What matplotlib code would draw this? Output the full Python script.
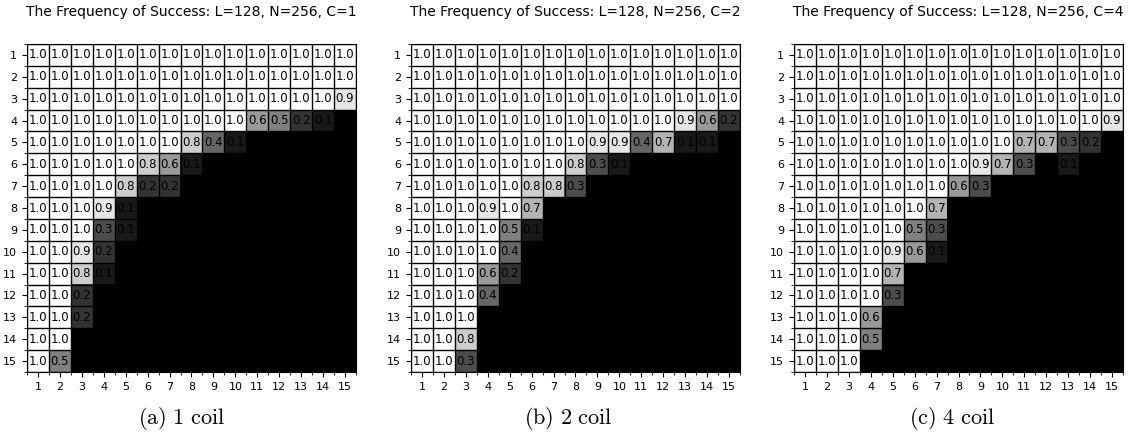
import numpy as np
import matplotlib
matplotlib.use("Agg")
import matplotlib.pyplot as plt

plt.rcParams['mathtext.fontset'] = 'cm'

# success frequency, rows = 1..15 (y), cols = 1..15 (x); 0 = black cell, no label
freq_c1 = [
    [1.0, 1.0, 1.0, 1.0, 1.0, 1.0, 1.0, 1.0, 1.0, 1.0, 1.0, 1.0, 1.0, 1.0, 1.0],
    [1.0, 1.0, 1.0, 1.0, 1.0, 1.0, 1.0, 1.0, 1.0, 1.0, 1.0, 1.0, 1.0, 1.0, 1.0],
    [1.0, 1.0, 1.0, 1.0, 1.0, 1.0, 1.0, 1.0, 1.0, 1.0, 1.0, 1.0, 1.0, 1.0, 0.9],
    [1.0, 1.0, 1.0, 1.0, 1.0, 1.0, 1.0, 1.0, 1.0, 1.0, 0.6, 0.5, 0.2, 0.1, 0],
    [1.0, 1.0, 1.0, 1.0, 1.0, 1.0, 1.0, 0.8, 0.4, 0.1, 0, 0, 0, 0, 0],
    [1.0, 1.0, 1.0, 1.0, 1.0, 0.8, 0.6, 0.1, 0, 0, 0, 0, 0, 0, 0],
    [1.0, 1.0, 1.0, 1.0, 0.8, 0.2, 0.2, 0, 0, 0, 0, 0, 0, 0, 0],
    [1.0, 1.0, 1.0, 0.9, 0.1, 0, 0, 0, 0, 0, 0, 0, 0, 0, 0],
    [1.0, 1.0, 1.0, 0.3, 0.1, 0, 0, 0, 0, 0, 0, 0, 0, 0, 0],
    [1.0, 1.0, 0.9, 0.2, 0, 0, 0, 0, 0, 0, 0, 0, 0, 0, 0],
    [1.0, 1.0, 0.8, 0.1, 0, 0, 0, 0, 0, 0, 0, 0, 0, 0, 0],
    [1.0, 1.0, 0.2, 0, 0, 0, 0, 0, 0, 0, 0, 0, 0, 0, 0],
    [1.0, 1.0, 0.2, 0, 0, 0, 0, 0, 0, 0, 0, 0, 0, 0, 0],
    [1.0, 1.0, 0, 0, 0, 0, 0, 0, 0, 0, 0, 0, 0, 0, 0],
    [1.0, 0.5, 0, 0, 0, 0, 0, 0, 0, 0, 0, 0, 0, 0, 0],
]

freq_c2 = [
    [1.0, 1.0, 1.0, 1.0, 1.0, 1.0, 1.0, 1.0, 1.0, 1.0, 1.0, 1.0, 1.0, 1.0, 1.0],
    [1.0, 1.0, 1.0, 1.0, 1.0, 1.0, 1.0, 1.0, 1.0, 1.0, 1.0, 1.0, 1.0, 1.0, 1.0],
    [1.0, 1.0, 1.0, 1.0, 1.0, 1.0, 1.0, 1.0, 1.0, 1.0, 1.0, 1.0, 1.0, 1.0, 1.0],
    [1.0, 1.0, 1.0, 1.0, 1.0, 1.0, 1.0, 1.0, 1.0, 1.0, 1.0, 1.0, 0.9, 0.6, 0.2],
    [1.0, 1.0, 1.0, 1.0, 1.0, 1.0, 1.0, 1.0, 0.9, 0.9, 0.4, 0.7, 0.1, 0.1, 0],
    [1.0, 1.0, 1.0, 1.0, 1.0, 1.0, 1.0, 0.8, 0.3, 0.1, 0, 0, 0, 0, 0],
    [1.0, 1.0, 1.0, 1.0, 1.0, 0.8, 0.8, 0.3, 0, 0, 0, 0, 0, 0, 0],
    [1.0, 1.0, 1.0, 0.9, 1.0, 0.7, 0, 0, 0, 0, 0, 0, 0, 0, 0],
    [1.0, 1.0, 1.0, 1.0, 0.5, 0.1, 0, 0, 0, 0, 0, 0, 0, 0, 0],
    [1.0, 1.0, 1.0, 1.0, 0.4, 0, 0, 0, 0, 0, 0, 0, 0, 0, 0],
    [1.0, 1.0, 1.0, 0.6, 0.2, 0, 0, 0, 0, 0, 0, 0, 0, 0, 0],
    [1.0, 1.0, 1.0, 0.4, 0, 0, 0, 0, 0, 0, 0, 0, 0, 0, 0],
    [1.0, 1.0, 1.0, 0, 0, 0, 0, 0, 0, 0, 0, 0, 0, 0, 0],
    [1.0, 1.0, 0.8, 0, 0, 0, 0, 0, 0, 0, 0, 0, 0, 0, 0],
    [1.0, 1.0, 0.3, 0, 0, 0, 0, 0, 0, 0, 0, 0, 0, 0, 0],
]

freq_c4 = [
    [1.0, 1.0, 1.0, 1.0, 1.0, 1.0, 1.0, 1.0, 1.0, 1.0, 1.0, 1.0, 1.0, 1.0, 1.0],
    [1.0, 1.0, 1.0, 1.0, 1.0, 1.0, 1.0, 1.0, 1.0, 1.0, 1.0, 1.0, 1.0, 1.0, 1.0],
    [1.0, 1.0, 1.0, 1.0, 1.0, 1.0, 1.0, 1.0, 1.0, 1.0, 1.0, 1.0, 1.0, 1.0, 1.0],
    [1.0, 1.0, 1.0, 1.0, 1.0, 1.0, 1.0, 1.0, 1.0, 1.0, 1.0, 1.0, 1.0, 1.0, 0.9],
    [1.0, 1.0, 1.0, 1.0, 1.0, 1.0, 1.0, 1.0, 1.0, 1.0, 0.7, 0.7, 0.3, 0.2, 0],
    [1.0, 1.0, 1.0, 1.0, 1.0, 1.0, 1.0, 1.0, 0.9, 0.7, 0.3, 0, 0.1, 0, 0],
    [1.0, 1.0, 1.0, 1.0, 1.0, 1.0, 1.0, 0.6, 0.3, 0, 0, 0, 0, 0, 0],
    [1.0, 1.0, 1.0, 1.0, 1.0, 1.0, 0.7, 0, 0, 0, 0, 0, 0, 0, 0],
    [1.0, 1.0, 1.0, 1.0, 1.0, 0.5, 0.3, 0, 0, 0, 0, 0, 0, 0, 0],
    [1.0, 1.0, 1.0, 1.0, 0.9, 0.6, 0.1, 0, 0, 0, 0, 0, 0, 0, 0],
    [1.0, 1.0, 1.0, 1.0, 0.7, 0, 0, 0, 0, 0, 0, 0, 0, 0, 0],
    [1.0, 1.0, 1.0, 1.0, 0.3, 0, 0, 0, 0, 0, 0, 0, 0, 0, 0],
    [1.0, 1.0, 1.0, 0.6, 0, 0, 0, 0, 0, 0, 0, 0, 0, 0, 0],
    [1.0, 1.0, 1.0, 0.5, 0, 0, 0, 0, 0, 0, 0, 0, 0, 0, 0],
    [1.0, 1.0, 1.0, 0, 0, 0, 0, 0, 0, 0, 0, 0, 0, 0, 0],
]

coils = [1, 2, 4]
captions = ['(a) 1 coil', '(b) 2 coil', '(c) 4 coil']
tick_labels = [str(i) for i in range(1, 16)]

fig = plt.figure(figsize=(11.36, 4.48), dpi=100)
lefts = [27 / 1136, 411 / 1136, 794 / 1136]
cap_x = [182 / 1136, 568 / 1136, 952 / 1136]

for k, data in enumerate([freq_c1, freq_c2, freq_c4]):
    arr = np.array(data)
    ax = fig.add_axes([lefts[k], 76 / 448, 329 / 1136, 328 / 448])
    ax.imshow(arr, cmap='gray', vmin=0, vmax=1, aspect='auto')
    n = arr.shape[0]
    for i in range(n):
        for j in range(n):
            if arr[i, j] > 0:
                ax.text(j, i, '%.1f' % arr[i, j], ha='center', va='center',
                        fontsize=8.5, color='black')
    ax.set_xticks(range(n))
    ax.set_xticklabels(tick_labels, fontsize=8)
    ax.set_yticks(range(n))
    ax.set_yticklabels(tick_labels, fontsize=8)
    ax.set_xticks(np.arange(-0.5, n, 1), minor=True)
    ax.set_yticks(np.arange(-0.5, n, 1), minor=True)
    ax.grid(which='minor', color='black', linewidth=1)
    ax.grid(which='major', visible=False)
    ax.set_title('The Frequency of Success: L=128, N=256, C=%d' % coils[k],
                 fontsize=10, pad=20)
    fig.text(cap_x[k], 30 / 448, r'$\mathrm{' + captions[k].replace(' ', r'\ ') + '}$',
             ha='center', va='center', fontsize=16)

fig.savefig('out.png', dpi=100)
